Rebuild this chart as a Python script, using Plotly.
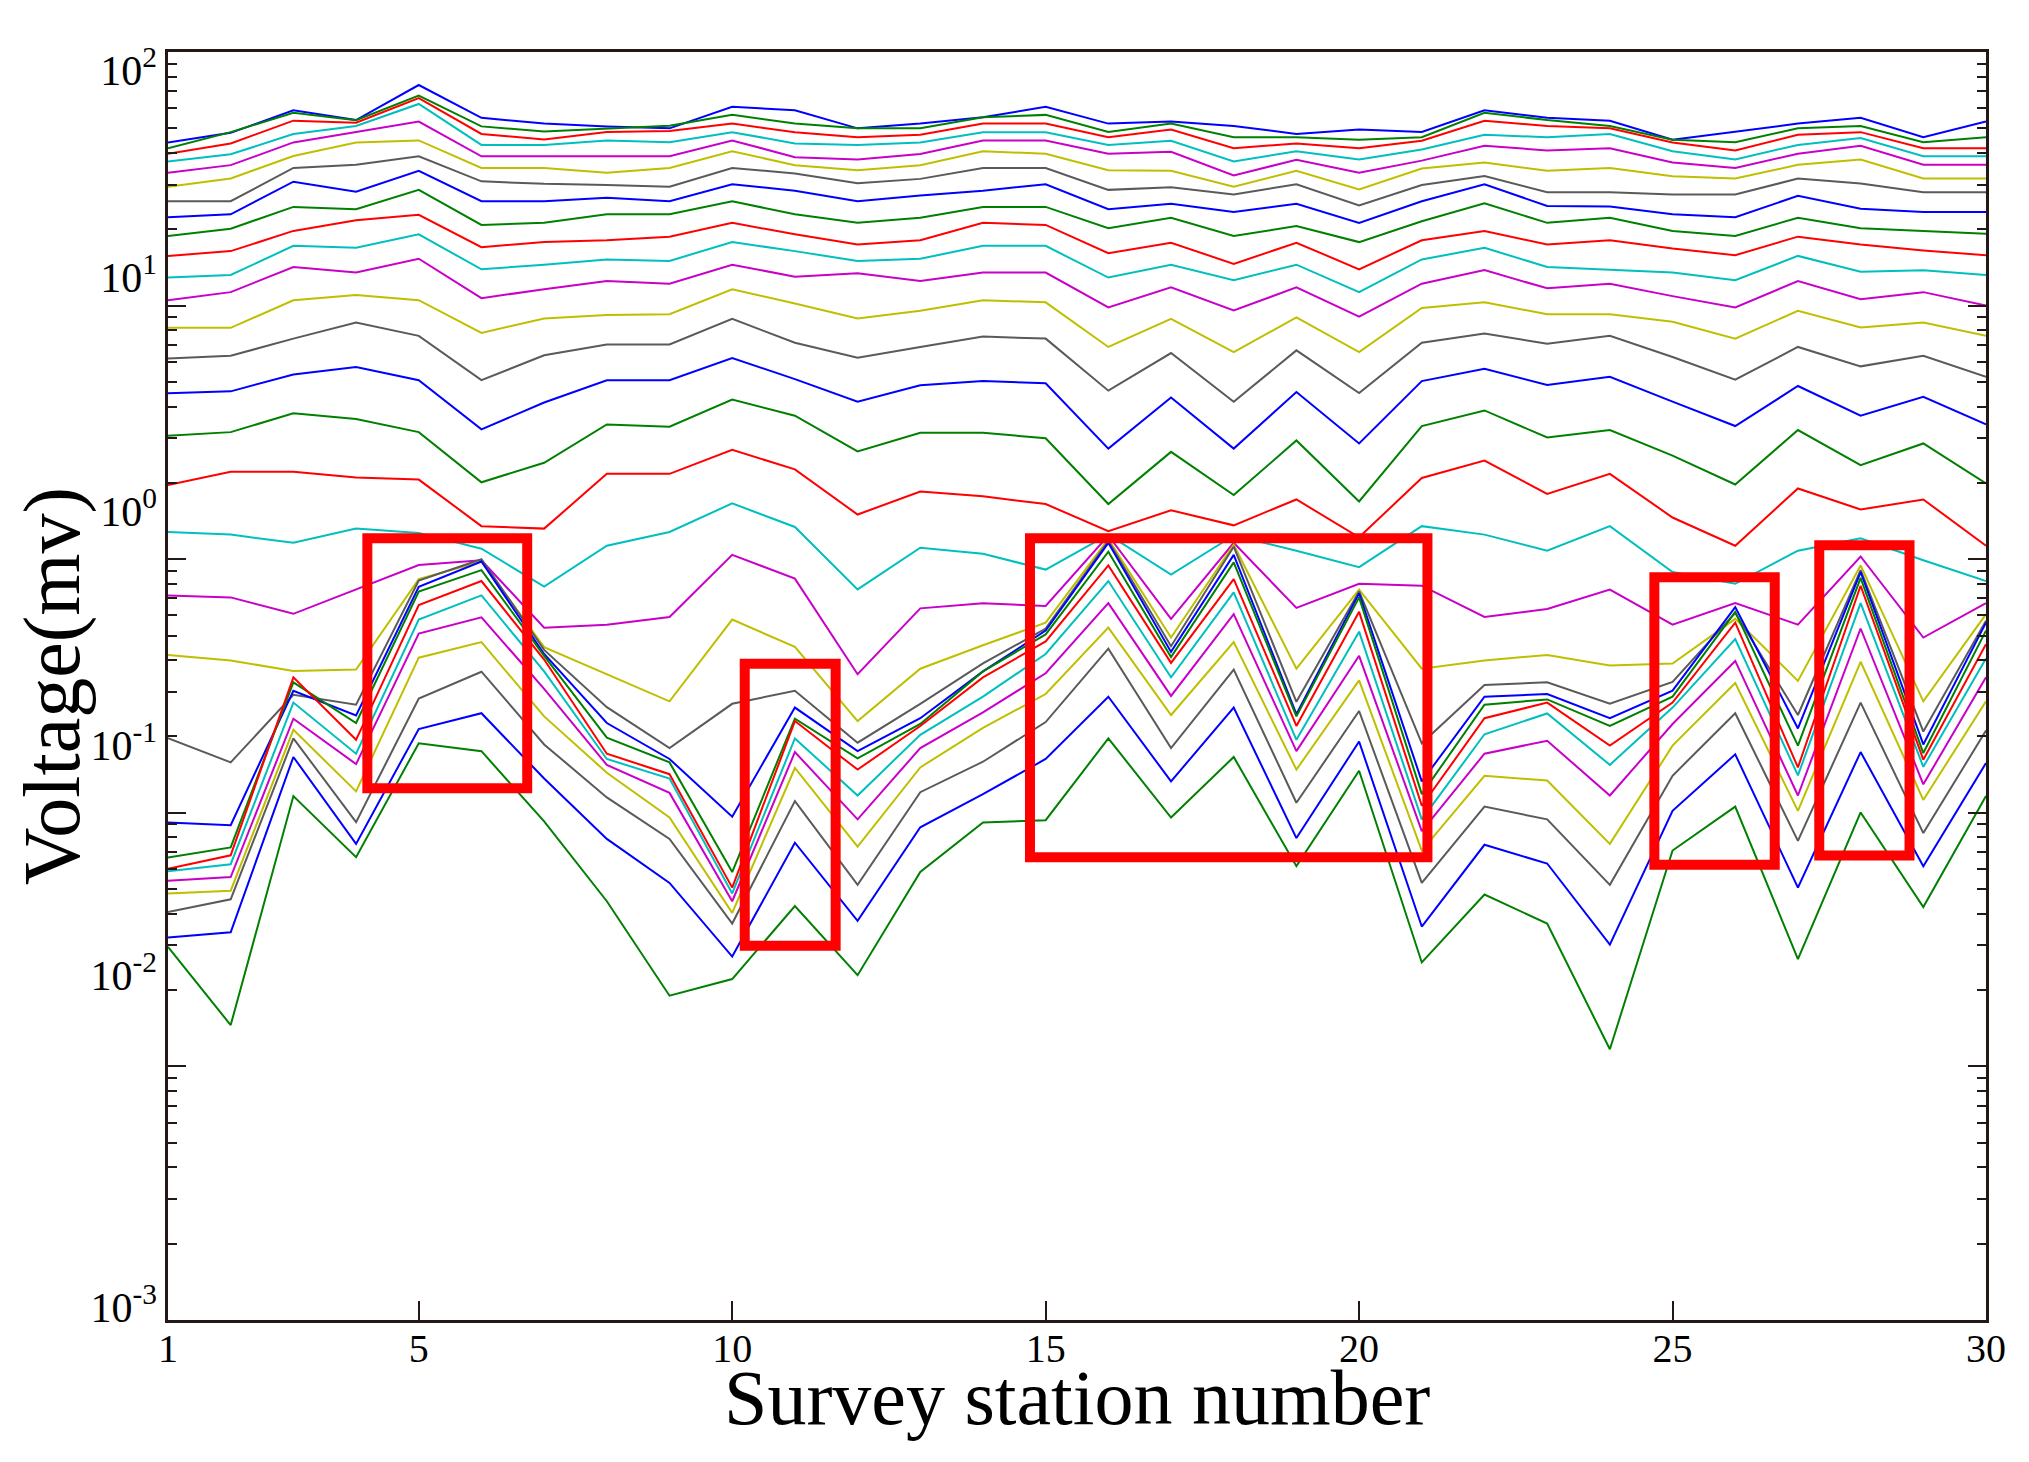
import plotly.graph_objects as go

# ---------------- data ----------------
stations = list(range(1, 31))

ch01 = [44.0, 48.0, 58.9, 53.9, 74.1, 55.0, 52.2, 50.9, 50.0, 60.8, 58.9, 50.0, 52.2, 55.3, 60.8, 52.2, 53.2, 51.1, 47.5, 49.5, 48.4, 58.9, 55.0, 53.6, 45.1, 48.4, 52.2, 55.0, 46.1, 53.2]
ch02 = [41.7, 48.3, 57.6, 53.8, 67.3, 50.9, 48.6, 49.9, 51.2, 56.5, 52.2, 50.0, 50.0, 55.3, 56.5, 48.4, 52.2, 46.1, 46.1, 45.1, 46.1, 57.6, 53.9, 51.1, 45.1, 44.1, 50.0, 51.1, 44.1, 46.1]
ch03 = [39.7, 43.6, 53.6, 52.6, 65.8, 47.5, 45.2, 48.4, 48.8, 52.2, 48.3, 46.1, 47.2, 52.2, 52.2, 46.1, 49.5, 41.7, 43.6, 41.7, 44.7, 53.6, 51.1, 50.0, 44.0, 40.9, 47.2, 48.3, 41.7, 41.7]
ch04 = [37.0, 39.5, 47.5, 51.1, 62.4, 43.0, 43.0, 44.8, 44.1, 48.3, 43.6, 43.0, 44.0, 48.3, 48.3, 43.0, 44.7, 37.0, 40.6, 37.7, 41.3, 47.2, 46.1, 47.5, 40.6, 37.7, 43.0, 45.8, 38.8, 38.8]
ch05 = [33.4, 35.8, 44.0, 48.4, 53.2, 38.8, 38.8, 38.8, 38.8, 44.8, 38.5, 37.7, 39.6, 44.8, 44.8, 39.7, 40.4, 32.6, 37.6, 33.4, 37.3, 42.7, 40.9, 41.7, 36.7, 34.9, 39.7, 42.7, 35.9, 35.9]
ch06 = [29.4, 31.7, 38.9, 44.0, 44.8, 34.9, 34.9, 33.4, 34.9, 40.6, 35.8, 34.2, 35.8, 40.6, 39.7, 34.2, 34.0, 29.4, 34.0, 28.7, 34.7, 36.7, 34.0, 34.9, 32.4, 31.7, 35.9, 37.7, 31.7, 31.7]
ch07 = [25.8, 25.8, 34.9, 35.9, 38.8, 30.9, 30.2, 29.9, 29.4, 34.9, 33.2, 30.4, 31.6, 34.9, 34.9, 28.6, 29.3, 27.4, 30.1, 24.8, 29.9, 32.4, 28.0, 28.0, 27.4, 27.4, 31.7, 30.3, 28.0, 28.0]
ch08 = [22.3, 22.9, 30.8, 28.1, 34.0, 25.8, 25.8, 26.6, 25.8, 30.1, 28.4, 25.8, 27.2, 28.4, 30.1, 24.0, 25.2, 23.4, 25.2, 21.2, 25.8, 30.1, 24.7, 24.6, 22.9, 22.3, 27.1, 24.1, 23.4, 23.4]
ch09 = [18.8, 20.1, 24.5, 24.0, 28.6, 20.8, 21.2, 22.9, 22.9, 25.8, 22.9, 21.2, 22.2, 24.5, 24.5, 20.2, 22.2, 18.8, 20.6, 17.8, 21.5, 25.3, 21.2, 22.2, 19.7, 18.8, 22.2, 20.2, 19.7, 19.2]
ch10 = [15.7, 16.4, 19.7, 21.7, 22.8, 17.0, 17.8, 18.1, 18.7, 21.2, 19.1, 17.4, 18.1, 21.2, 20.8, 16.1, 17.7, 14.6, 17.7, 13.9, 18.1, 19.7, 17.4, 18.1, 16.8, 15.8, 18.7, 17.4, 16.5, 15.8]
ch11 = [12.9, 13.2, 17.2, 16.9, 19.1, 13.9, 14.5, 15.2, 15.0, 17.8, 16.4, 15.0, 15.3, 17.2, 17.2, 12.9, 14.5, 12.6, 14.5, 11.3, 15.2, 16.9, 14.2, 13.8, 13.5, 12.6, 15.7, 13.6, 13.8, 13.2]
ch12 = [10.5, 11.3, 14.2, 13.5, 15.3, 10.7, 11.6, 12.5, 12.2, 14.5, 13.0, 13.4, 12.5, 13.5, 13.5, 9.84, 11.8, 9.57, 11.8, 9.04, 12.2, 13.8, 11.7, 12.2, 10.9, 9.84, 12.5, 10.6, 11.3, 10.0]
ch13 = [8.17, 8.17, 10.5, 11.0, 10.5, 7.80, 8.90, 9.19, 9.25, 11.6, 10.2, 8.90, 9.54, 10.5, 10.3, 6.87, 8.86, 6.56, 8.98, 6.56, 9.78, 10.3, 9.25, 9.25, 8.63, 7.41, 9.54, 8.20, 8.57, 7.60]
ch14 = [6.19, 6.34, 7.41, 8.57, 7.60, 5.08, 6.37, 7.03, 7.03, 8.86, 7.14, 6.23, 6.87, 7.55, 7.41, 4.62, 6.50, 4.18, 6.66, 4.52, 7.14, 7.77, 7.07, 7.60, 6.27, 5.10, 6.87, 5.76, 6.34, 5.24]
ch15 = [4.51, 4.59, 5.35, 5.73, 5.08, 3.25, 4.15, 5.08, 5.08, 6.21, 5.13, 4.18, 4.85, 5.04, 4.94, 2.73, 4.34, 2.73, 4.56, 2.86, 5.04, 5.64, 4.86, 5.24, 4.18, 3.35, 4.82, 3.68, 4.37, 3.40]
ch16 = [3.07, 3.17, 3.76, 3.57, 3.17, 2.01, 2.40, 3.40, 3.33, 4.26, 3.68, 2.66, 3.15, 3.15, 3.00, 1.65, 2.65, 1.79, 2.94, 1.69, 3.35, 3.86, 3.02, 3.23, 2.56, 1.97, 3.23, 2.35, 2.86, 1.99]
ch17 = [1.96, 2.21, 2.21, 2.10, 2.06, 1.35, 1.32, 2.17, 2.17, 2.70, 2.26, 1.50, 1.85, 1.77, 1.65, 1.29, 1.56, 1.36, 1.72, 1.22, 2.09, 2.45, 1.81, 2.17, 1.46, 1.13, 1.90, 1.57, 1.72, 1.13]
ch18 = [1.28, 1.25, 1.16, 1.32, 1.27, 1.10, 0.78, 1.13, 1.28, 1.66, 1.34, 0.76, 1.11, 1.05, 0.91, 1.25, 0.87, 1.24, 1.08, 0.93, 1.35, 1.25, 1.08, 1.35, 0.89, 0.80, 1.08, 1.21, 0.99, 0.82]
ch19 = [0.720, 0.707, 0.609, 0.759, 0.948, 0.990, 0.537, 0.552, 0.592, 1.04, 0.838, 0.352, 0.640, 0.671, 0.654, 1.24, 0.582, 1.16, 0.643, 0.800, 0.786, 0.592, 0.636, 0.759, 0.552, 0.671, 0.552, 1.025, 0.491, 0.671]
ch20 = [0.419, 0.399, 0.362, 0.367, 0.835, 0.980, 0.450, 0.351, 0.275, 0.578, 0.451, 0.230, 0.370, 0.458, 0.562, 1.20, 0.491, 1.14, 0.370, 0.759, 0.370, 0.399, 0.419, 0.381, 0.388, 0.582, 0.331, 0.945, 0.275, 0.607]
ch21 = [0.197, 0.158, 0.292, 0.267, 0.823, 1.00, 0.439, 0.261, 0.180, 0.269, 0.303, 0.189, 0.269, 0.388, 0.533, 1.18, 0.454, 1.12, 0.274, 0.746, 0.188, 0.319, 0.327, 0.269, 0.328, 0.614, 0.243, 0.906, 0.209, 0.572]
ch22 = [0.0916, 0.0893, 0.303, 0.242, 0.778, 0.979, 0.423, 0.226, 0.163, 0.0965, 0.260, 0.175, 0.236, 0.361, 0.523, 1.16, 0.431, 1.04, 0.245, 0.733, 0.133, 0.287, 0.294, 0.236, 0.303, 0.647, 0.215, 0.890, 0.186, 0.562]
ch23 = [0.0666, 0.0730, 0.327, 0.226, 0.746, 0.906, 0.416, 0.198, 0.158, 0.0584, 0.235, 0.164, 0.224, 0.361, 0.505, 1.07, 0.411, 0.972, 0.240, 0.707, 0.1185, 0.267, 0.280, 0.220, 0.287, 0.620, 0.184, 0.844, 0.172, 0.523]
ch24 = [0.0601, 0.0680, 0.342, 0.194, 0.659, 0.820, 0.402, 0.171, 0.142, 0.0507, 0.230, 0.148, 0.220, 0.342, 0.474, 0.945, 0.390, 0.835, 0.220, 0.620, 0.1066, 0.236, 0.272, 0.184, 0.272, 0.562, 0.151, 0.786, 0.162, 0.462]
ch25 = [0.0588, 0.0627, 0.272, 0.171, 0.578, 0.720, 0.361, 0.163, 0.1365, 0.0481, 0.1965, 0.117, 0.203, 0.287, 0.423, 0.820, 0.342, 0.740, 0.194, 0.518, 0.0942, 0.204, 0.2465, 0.1545, 0.260, 0.484, 0.1405, 0.671, 0.1518, 0.406]
ch26 = [0.0540, 0.0558, 0.235, 0.1556, 0.509, 0.590, 0.308, 0.1545, 0.1198, 0.0448, 0.1736, 0.0942, 0.180, 0.249, 0.355, 0.671, 0.289, 0.607, 0.175, 0.416, 0.0847, 0.171, 0.1924, 0.117, 0.224, 0.397, 0.117, 0.533, 0.1295, 0.342]
ch27 = [0.0481, 0.0493, 0.2124, 0.1215, 0.409, 0.471, 0.240, 0.1439, 0.0958, 0.0403, 0.1502, 0.0735, 0.151, 0.2163, 0.294, 0.537, 0.243, 0.471, 0.148, 0.333, 0.0710, 0.140, 0.134, 0.0754, 0.184, 0.325, 0.1018, 0.394, 0.1124, 0.275]
ch28 = [0.0406, 0.0456, 0.1965, 0.0919, 0.282, 0.360, 0.186, 0.115, 0.0789, 0.0366, 0.1112, 0.0520, 0.1206, 0.159, 0.228, 0.444, 0.180, 0.367, 0.1096, 0.252, 0.0529, 0.1058, 0.0942, 0.0520, 0.140, 0.247, 0.0775, 0.272, 0.0832, 0.211]
ch29 = [0.0322, 0.0338, 0.166, 0.0754, 0.214, 0.247, 0.1365, 0.0789, 0.0529, 0.0271, 0.0762, 0.0375, 0.0877, 0.1185, 0.163, 0.287, 0.133, 0.260, 0.0795, 0.191, 0.0356, 0.0748, 0.0631, 0.0302, 0.1018, 0.170, 0.0507, 0.1736, 0.0616, 0.157]
ch30 = [0.0296, 0.01455, 0.1164, 0.0668, 0.188, 0.175, 0.0925, 0.0448, 0.0190, 0.0221, 0.0429, 0.0229, 0.0584, 0.0916, 0.0935, 0.1965, 0.0958, 0.166, 0.0616, 0.1465, 0.0257, 0.0476, 0.0366, 0.01168, 0.0710, 0.1058, 0.0265, 0.1003, 0.0425, 0.1164]

channels = [ch01, ch02, ch03, ch04, ch05, ch06, ch07, ch08, ch09, ch10,
            ch11, ch12, ch13, ch14, ch15, ch16, ch17, ch18, ch19, ch20,
            ch21, ch22, ch23, ch24, ch25, ch26, ch27, ch28, ch29, ch30]

x_tick_values = [1, 5, 10, 15, 20, 25, 30]
x_tick_labels = ["1", "5", "10", "15", "20", "25", "30"]
y_tick_labels = ["10<sup>2</sup>", "10<sup>1</sup>", "10<sup>0</sup>",
                 "10<sup>-1</sup>", "10<sup>-2</sup>", "10<sup>-3</sup>"]
x_title = "Survey station number"
y_title = "Voltage(mv)"

# highlighted anomaly regions (station range, voltage range)
region_x0 = [4.18, 10.20, 14.75, 24.71, 27.34]
region_x1 = [6.73, 11.65, 21.09, 26.63, 28.78]
region_y0 = [0.125, 0.0299, 0.0668, 0.0624, 0.0678]
region_y1 = [1.21, 0.387, 1.21, 0.849, 1.135]

# ---------------- styling ----------------
palette = ["#0000FF", "#008000", "#FF0000", "#00BFBF", "#C800C8", "#BFBF00", "#5A5A5A"]
axis_color = "#231815"
serif = "Liberation Serif, Times New Roman, serif"
# vertical placement of the decade labels as drawn in the reference (fraction of plot height)
y_label_pos = [0.9858, 0.8226, 0.6380, 0.4535, 0.2721, 0.0103]

fig = go.Figure()
for i, vals in enumerate(channels):
    fig.add_trace(go.Scatter(
        x=stations, y=vals, mode="lines",
        line=dict(color=palette[i % len(palette)], width=2),
        name=f"Channel {i + 1}", showlegend=False,
    ))

# carrier trace for the label axis
fig.add_trace(go.Scatter(x=[None], y=[None], yaxis="y2", showlegend=False,
                         hoverinfo="skip", mode="lines"))

for x0, x1, y0, y1 in zip(region_x0, region_x1, region_y0, region_y1):
    fig.add_shape(type="rect", xref="x", yref="y", x0=x0, x1=x1, y0=y0, y1=y1,
                  line=dict(color="#FF0000", width=10),
                  fillcolor="rgba(0,0,0,0)", layer="above")

# x-axis title placed as in the reference
fig.add_annotation(text=x_title, xref="paper", yref="paper", x=0.5, y=-0.0615,
                   xanchor="center", yanchor="middle", showarrow=False,
                   font=dict(family=serif, size=78, color="black"))

fig.update_layout(
    width=2029, height=1462,
    template="none",
    paper_bgcolor="white", plot_bgcolor="white",
    margin=dict(l=168, r=43, t=52, b=142, pad=0),
    showlegend=False,
    font=dict(family=serif, color="black"),
    xaxis=dict(
        range=[1, 30], tickmode="array", tickvals=x_tick_values, ticktext=x_tick_labels,
        ticks="inside", ticklen=19, tickwidth=2, tickcolor=axis_color,
        showline=True, linewidth=3, linecolor=axis_color, mirror=True,
        showgrid=False, zeroline=False, automargin=False, ticklabelstandoff=-9,
        tickfont=dict(family=serif, size=40, color="black"),
    ),
    yaxis=dict(
        type="log", range=[-3, 2], tickmode="linear", tick0=0, dtick=1,
        ticks="inside", ticklen=18, tickwidth=2, tickcolor=axis_color,
        showticklabels=False,
        showline=True, linewidth=3, linecolor=axis_color, mirror="ticks",
        showgrid=False, zeroline=False, automargin=False,
        minor=dict(ticks="inside", ticklen=9, tickwidth=2, tickcolor=axis_color,
                   dtick="D1", showgrid=False),
        title=dict(text=y_title,
                   font=dict(family=serif, size=80, color="black"), standoff=60),
    ),
    yaxis2=dict(
        overlaying="y", side="left", anchor="x", range=[0, 1],
        tickmode="array", tickvals=y_label_pos, ticktext=y_tick_labels,
        ticks="", showline=False, showgrid=False, zeroline=False,
        automargin=False, ticklabelstandoff=10,
        tickfont=dict(family=serif, size=42, color="black"),
    ),
)

fig.write_html("out.html", config={"displayModeBar": False},
               post_script="document.body.style.margin='0';")
